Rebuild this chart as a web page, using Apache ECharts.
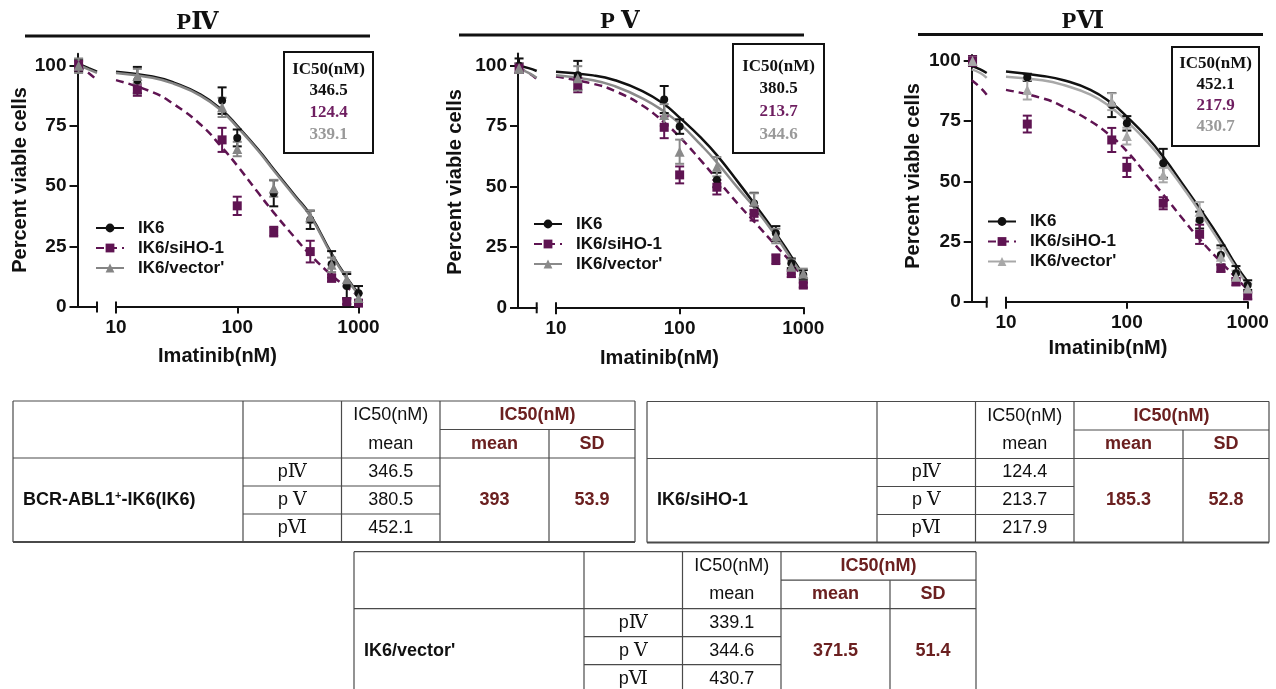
<!DOCTYPE html>
<html><head><meta charset="utf-8">
<script src="https://cdn.jsdelivr.net/npm/echarts@6/dist/echarts.min.js"></script>
<style>html,body{margin:0;padding:0;background:#fff}#c{width:1276px;height:689px}</style>
</head><body><div id="c"></div>
<script>
// ---------------- DATA ----------------
const panelTitles = ['PⅣ', 'P Ⅴ', 'PⅥ'];
const groupNames = ['IK6', 'IK6/siHO-1', "IK6/vector'"];
const yTicks = [0, 25, 50, 75, 100];
const xTicks = [10, 100, 1000];
const yAxisName = 'Percent viable cells';
const xAxisName = 'Imatinib(nM)';
// first dose = untreated control, drawn on the left (broken) segment
const doses = [5, 15, 75, 100, 200, 400, 600, 800, 1000];
const curveDosesLeft = [4.9, 6, 7];
const curveDosesRight = [10, 20, 30, 50, 75, 100, 150, 200, 300, 400, 600, 800, 1000];

// Panel PIV
const p4_IK6_mean = [100, 94, 85.5, 70, 47, 36, 17.5, 8.5, 5.5];
const p4_IK6_sd   = [2.5, 5.5, 5.5, 3.5, 5.4, 3.8, 5.5, 5, 3];
const p4_si_mean  = [100, 90, 69.2, 41.8, 31.1, 22.8, 11.8, 2, 1.4];
const p4_si_sd    = [2, 2.5, 5, 3.8, 2, 4.5, 1.5, 1, 1];
const p4_vec_mean = [100, 95.7, 82.7, 65.4, 49.1, 37.3, 17.3, 11.3, 3.5];
const p4_vec_sd   = [3, 3, 4, 3, 3.5, 2.5, 3, 3, 2];
const p4_IK6_fitL = [101, 99, 97.5];
const p4_IK6_fit  = [97.5, 95.5, 93, 88, 81.5, 75, 65, 57, 46, 38, 22, 12, 5.5];
const p4_si_fitL  = [100.3, 97, 94];
const p4_si_fit   = [94, 89, 84, 75.5, 66, 58.5, 47, 39, 28.5, 21.5, 13, 8, 4.5];
const p4_vec_fitL = [100.5, 98.5, 97];
const p4_vec_fit  = [97, 95, 92.5, 87.5, 81, 74.5, 64.5, 56.5, 45.5, 37.5, 21.5, 11.5, 5];

// Panel PV
const p5_IK6_mean = [100, 96, 86, 74.8, 52.7, 43, 30.6, 18.2, 13.4];
const p5_IK6_sd   = [3, 6, 5.6, 3, 3, 4.4, 3, 2, 2];
const p5_si_mean  = [99, 92, 74.5, 54.8, 49.7, 38.9, 19.9, 14, 9.2];
const p5_si_sd    = [2, 3, 4.5, 3.5, 3, 3, 2, 1.5, 1];
const p5_vec_mean = [99, 94.8, 79.6, 64.4, 58.2, 43.7, 29.5, 16.8, 14];
const p5_vec_sd   = [2, 5, 4.5, 5, 4, 3.5, 3, 3, 2];
const p5_IK6_fitL = [100, 99, 97.8];
const p5_IK6_fit  = [97.5, 96, 94, 89.5, 84, 78.5, 70, 63, 51.5, 43, 30.6, 21, 13.4];
const p5_si_fitL  = [99, 97, 94.5];
const p5_si_fit   = [95.5, 92.5, 89.5, 83.5, 76.5, 70.5, 60.5, 53, 42.5, 35.5, 25.5, 18.5, 12];
const p5_vec_fitL = [99, 97, 95];
const p5_vec_fit  = [96, 94, 91.5, 86.5, 81, 76, 67, 60, 49, 41.5, 29.5, 20, 13];

// Panel PVI
const p6_IK6_mean = [100, 93.2, 81.7, 74.1, 57.5, 33.9, 19.4, 11.8, 6.9];
const p6_IK6_sd   = [2, 1.5, 5, 3, 6, 3.5, 4, 3, 2];
const p6_si_mean  = [100, 73.8, 67.2, 55.8, 40.9, 28, 13.9, 8.3, 2.5];
const p6_si_sd    = [2, 3.5, 5, 4, 2.5, 4, 1.5, 1.5, 1.5];
const p6_vec_mean = [100, 88, 83.1, 68.8, 52.6, 37.4, 18.7, 10.4, 5.5];
const p6_vec_sd   = [1.5, 4, 3.5, 3.5, 3, 4, 3.5, 2.5, 2];
const p6_IK6_fitL = [98, 96.5, 95];
const p6_IK6_fit  = [95.6, 93.8, 92, 88, 82.4, 76.9, 67.9, 60.2, 47.8, 38.8, 25.6, 15.2, 8.3];
const p6_si_fitL  = [92, 89, 86];
const p6_si_fit   = [88, 84.5, 81, 75, 68.5, 62.5, 52, 44.5, 33.5, 26, 16.5, 10, 5];
const p6_vec_fitL = [96.5, 95, 93];
const p6_vec_fit  = [93.5, 92, 90, 86, 80.5, 75, 66, 58.5, 46.5, 37.5, 24, 14, 7];

// IC50 values (nM) per passage PIV, PV, PVI
const ic50_IK6 = [346.5, 380.5, 452.1];
const ic50_si  = [124.4, 213.7, 217.9];
const ic50_vec = [339.1, 344.6, 430.7];
const ic50Mean = [393, 185.3, 371.5];
const ic50SD   = [53.9, 52.8, 51.4];
const tableRowLabels = ['BCR-ABL1{sup|+}-IK6(IK6)', 'IK6/siHO-1', "IK6/vector'"];
const passageNumerals = ['Ⅳ', 'Ⅴ', 'Ⅵ'];
const passagePrefix = ['p', 'p ', 'p'];
const ic50Header = 'IC50(nM)';
const meanLabel = 'mean';
const sdLabel = 'SD';

// ---------------- LAYOUT / STYLE ----------------
const SANS = "'Liberation Sans', Arial, sans-serif";
const SERIF = "'Liberation Serif', 'DejaVu Serif', serif";
const INK = '#111';
const PURPLE = '#5f1452';
const TRED = '#6b2020';
const panels = [
  {yAxisX: 77.5, leftEnd: 97, rightStart: 116, rightEnd: 358.5, y100: 65.7, y0: 306.5, ymax: 105,
   grey: '#858585', title: [197.5, 23], tline: [25, 370, 36], yname: [20, 180], xname: [217.5, 356],
   box: [284, 52, 89, 101], boxY: [70, 91, 113, 135], legend: [95, 219.5]},
  {yAxisX: 518, leftEnd: 536.7, rightStart: 556, rightEnd: 803.3, y100: 65.7, y0: 307.3, ymax: 105,
   grey: '#8a8a8a', title: [620, 22], tline: [459, 804, 35], yname: [455.5, 182], xname: [659.5, 358],
   box: [733, 44, 91, 109], boxY: [66.7, 88.3, 111.7, 135], legend: [533, 215.5]},
  {yAxisX: 971.7, leftEnd: 986.7, rightStart: 1006, rightEnd: 1247.7, y100: 61, y0: 301.7, ymax: 102.5,
   grey: '#a8a8a8', title: [1083, 21.5], tline: [918, 1263, 34.5], yname: [913, 176], xname: [1108, 348.5],
   box: [1172, 47, 87, 99], boxY: [63.3, 85, 106, 126.7], legend: [987, 213]}
];
const panelData = [
  {mean: [p4_IK6_mean, p4_si_mean, p4_vec_mean], sd: [p4_IK6_sd, p4_si_sd, p4_vec_sd],
   fitL: [p4_IK6_fitL, p4_si_fitL, p4_vec_fitL], fit: [p4_IK6_fit, p4_si_fit, p4_vec_fit]},
  {mean: [p5_IK6_mean, p5_si_mean, p5_vec_mean], sd: [p5_IK6_sd, p5_si_sd, p5_vec_sd],
   fitL: [p5_IK6_fitL, p5_si_fitL, p5_vec_fitL], fit: [p5_IK6_fit, p5_si_fit, p5_vec_fit]},
  {mean: [p6_IK6_mean, p6_si_mean, p6_vec_mean], sd: [p6_IK6_sd, p6_si_sd, p6_vec_sd],
   fitL: [p6_IK6_fitL, p6_si_fitL, p6_vec_fitL], fit: [p6_IK6_fit, p6_si_fit, p6_vec_fit]}
];
const symbols = ['circle', 'rect', 'triangle'];
const symSizes = [8, 9, 10];
const lineTypes = ['solid', [8, 5], 'solid'];

function errRender(color) {
  return function (params, api) {
    const x = api.value(0), y = api.value(1), e = api.value(2);
    const a = api.coord([x, y + e]), b = api.coord([x, y - e]);
    const st = {stroke: color, lineWidth: 2};
    return {type: 'group', children: [
      {type: 'line', shape: {x1: a[0], y1: a[1], x2: b[0], y2: b[1]}, style: st},
      {type: 'line', shape: {x1: a[0] - 4.5, y1: a[1], x2: a[0] + 4.5, y2: a[1]}, style: st},
      {type: 'line', shape: {x1: b[0] - 4.5, y1: b[1], x2: b[0] + 4.5, y2: b[1]}, style: st}
    ]};
  };
}

const grid = [], xAxis = [], yAxis = [], series = [], legend = [], graphic = [];
const axisLineStyle = {show: true, lineStyle: {color: INK, width: 2}};

panels.forEach((P, i) => {
  const pxPer = (P.y0 - P.y100) / 100;
  const top = P.y0 - P.ymax * pxPer;
  const height = P.y0 - top;
  const colors = [INK, PURPLE, P.grey];
  grid.push({left: P.yAxisX, top: top, width: P.leftEnd - P.yAxisX, height: height, containLabel: false, outerBoundsMode: 'none', show: false});
  grid.push({left: P.rightStart, top: top, width: P.rightEnd - P.rightStart, height: height, containLabel: false, outerBoundsMode: 'none', show: false});
  const gL = 2 * i, gR = 2 * i + 1;
  xAxis.push({gridIndex: gL, type: 'log', logBase: 10, min: 4.9, max: 7, axisLine: axisLineStyle,
    axisTick: {show: false}, axisLabel: {show: false}, splitLine: {show: false}});
  xAxis.push({gridIndex: gR, type: 'log', logBase: 10, min: 10, max: 1000, axisLine: axisLineStyle,
    axisTick: {show: true, length: 7, lineStyle: {color: INK, width: 2}, customValues: xTicks},
    axisLabel: {show: true, customValues: xTicks, fontSize: 19, fontWeight: 'bold', color: INK, fontFamily: SANS, margin: 12,
      formatter: v => String(Math.round(v))},
    splitLine: {show: false}, minorTick: {show: false}});
  yAxis.push({gridIndex: gL, type: 'value', min: 0, max: P.ymax, interval: 25, axisLine: axisLineStyle,
    axisTick: {show: true, length: 8, lineStyle: {color: INK, width: 2}, customValues: yTicks},
    axisLabel: {show: true, customValues: yTicks, fontSize: 19, fontWeight: 'bold', color: INK, fontFamily: SANS, margin: 11},
    splitLine: {show: false}});
  yAxis.push({gridIndex: gR, type: 'value', min: 0, max: P.ymax, show: false, splitLine: {show: false}});

  const D = panelData[i];
  const names = groupNames.map(n => n + '#' + i);
  // fitted curves (right segment) first so legend picks them
  for (let g = 0; g < 3; g++) {
    series.push({type: 'line', name: names[g], xAxisIndex: gR, yAxisIndex: gR,
      data: curveDosesRight.map((d, k) => [d, D.fit[g][k]]),
      smooth: 0.5, symbol: symbols[g], symbolSize: symSizes[g], showSymbol: false,
      itemStyle: {color: colors[g]}, lineStyle: {color: colors[g], width: 2.5, type: lineTypes[g]},
      silent: true, animation: false, z: 2});
  }
  for (let g = 0; g < 3; g++) {
    series.push({type: 'line', name: names[g], xAxisIndex: gL, yAxisIndex: gL,
      data: curveDosesLeft.map((d, k) => [d, D.fitL[g][k]]),
      smooth: 0.5, symbol: symbols[g], showSymbol: false,
      itemStyle: {color: colors[g]}, lineStyle: {color: colors[g], width: 2.5, type: lineTypes[g]},
      silent: true, animation: false, z: 2});
  }
  for (let g = 0; g < 3; g++) {
    const pts = doses.map((d, k) => [d, D.mean[g][k], D.sd[g][k]]);
    [[gL, pts.slice(0, 1)], [gR, pts.slice(1)]].forEach(([gi, dat]) => {
      series.push({type: 'custom', name: names[g], xAxisIndex: gi, yAxisIndex: gi, data: dat,
        encode: {x: 0, y: 1}, renderItem: errRender(colors[g]), clip: false, silent: true, animation: false, z: 3});
      series.push({type: 'scatter', name: names[g], xAxisIndex: gi, yAxisIndex: gi,
        data: dat.map(p => [p[0], p[1]]), symbol: symbols[g], symbolSize: symSizes[g],
        itemStyle: {color: colors[g], opacity: 1}, clip: false, silent: true, animation: false, z: 4});
    });
  }
  legend.push({data: names, orient: 'vertical', left: P.legend[0], top: P.legend[1], itemWidth: 28, itemHeight: 11,
    itemGap: 3, selectedMode: false, formatter: n => n.split('#')[0], padding: 0,
    textStyle: {fontSize: 17, fontWeight: 'bold', color: INK, fontFamily: SANS, padding: [0, 0, 0, 9]}});

  // decorations
  graphic.push({type: 'text', x: P.title[0], y: P.title[1], silent: true,
    style: {text: panelTitles[i], fontSize: 24, fontWeight: 'bold', fontFamily: SERIF, fill: INK, align: 'center', verticalAlign: 'middle'}});
  graphic.push({type: 'line', silent: true, shape: {x1: P.tline[0], y1: P.tline[2], x2: P.tline[1], y2: P.tline[2]}, style: {stroke: INK, lineWidth: 3}});
  graphic.push({type: 'text', x: P.yname[0], y: P.yname[1], rotation: Math.PI / 2, silent: true,
    style: {text: yAxisName, fontSize: 20, fontWeight: 'bold', fontFamily: SANS, fill: INK, align: 'center', verticalAlign: 'middle'}});
  graphic.push({type: 'text', x: P.xname[0], y: P.xname[1], silent: true,
    style: {text: xAxisName, fontSize: 20, fontWeight: 'bold', fontFamily: SANS, fill: INK, align: 'center', verticalAlign: 'middle'}});
  // axis break marks
  [P.leftEnd, P.rightStart].forEach(bx => graphic.push({type: 'line', silent: true,
    shape: {x1: bx, y1: P.y0 - 5, x2: bx, y2: P.y0 + 6}, style: {stroke: INK, lineWidth: 2}}));
  // IC50 box
  const b = P.box;
  graphic.push({type: 'rect', silent: true, shape: {x: b[0], y: b[1], width: b[2], height: b[3]},
    style: {fill: 'transparent', stroke: INK, lineWidth: 2}});
  const bx = b[0] + b[2] / 2;
  const boxTexts = [[ic50Header, INK], [String(ic50_IK6[i]), INK], [String(ic50_si[i]), '#6e1e60'], [String(ic50_vec[i]), i === 2 ? '#9a9a9a' : '#999']];
  boxTexts.forEach((t, k) => graphic.push({type: 'text', x: bx, y: P.boxY[k], silent: true,
    style: {text: t[0], fontSize: 17, fontWeight: 'bold', fontFamily: SERIF, fill: t[1], align: 'center', verticalAlign: 'middle'}}));
});

// ---------------- TABLES ----------------
const tableOrigins = [[13, 401], [647, 401.5], [354, 551.7]];
const colOff = [0, 230, 328.5, 427, 536, 622];
const rowOff = [0, 28.5, 57, 85, 113, 141];
const groupIC50 = [ic50_IK6, ic50_si, ic50_vec];
tableOrigins.forEach((o, t) => {
  const X = colOff.map(c => o[0] + c), Y = rowOff.map(r => o[1] + r);
  const L = (x1, y1, x2, y2, w) => graphic.push({type: 'line', silent: true, shape: {x1, y1, x2, y2}, style: {stroke: '#4a4a4a', lineWidth: w || 1.2}});
  L(X[0], Y[0], X[5], Y[0]);
  L(X[3], Y[1], X[5], Y[1]);
  L(X[0], Y[2], X[5], Y[2]);
  L(X[1], Y[3], X[3], Y[3]);
  L(X[1], Y[4], X[3], Y[4]);
  L(X[0], Y[5], X[5], Y[5], 2);
  [0, 1, 2, 3, 5].forEach(c => L(X[c], Y[0], X[c], Y[5]));
  L(X[4], Y[1], X[4], Y[5]);
  const T = (x, y, text, opt) => graphic.push({type: 'text', x, y, silent: true,
    style: Object.assign({text, fontSize: 18, fontFamily: SANS, fill: INK, align: 'center', verticalAlign: 'middle'}, opt || {})});
  const cx2 = (X[2] + X[3]) / 2;
  T(cx2, (Y[0] + Y[1]) / 2, ic50Header);
  T(cx2, (Y[1] + Y[2]) / 2, meanLabel);
  T((X[3] + X[5]) / 2, (Y[0] + Y[1]) / 2, ic50Header, {fontWeight: 'bold', fill: TRED});
  T((X[3] + X[4]) / 2, (Y[1] + Y[2]) / 2, meanLabel, {fontWeight: 'bold', fill: TRED});
  T((X[4] + X[5]) / 2, (Y[1] + Y[2]) / 2, sdLabel, {fontWeight: 'bold', fill: TRED});
  for (let r = 0; r < 3; r++) {
    const yc = (Y[2 + r] + Y[3 + r]) / 2;
    T((X[1] + X[2]) / 2, yc, passagePrefix[r] + '{n|' + passageNumerals[r] + '}',
      {rich: {n: {fontFamily: SERIF, fontSize: 19, fill: INK}}});
    T(cx2, yc, String(groupIC50[t][r]));
  }
  const ym = (Y[2] + Y[5]) / 2;
  T((X[3] + X[4]) / 2, ym, String(ic50Mean[t]), {fontWeight: 'bold', fill: TRED});
  T((X[4] + X[5]) / 2, ym, String(ic50SD[t]), {fontWeight: 'bold', fill: TRED});
  T(X[0] + 10, ym, tableRowLabels[t], {fontWeight: 'bold', align: 'left',
    rich: {sup: {fontSize: 11, fontWeight: 'bold', fontFamily: SANS, fill: INK, verticalAlign: 'top', padding: [0, 0, 8, 0]}}});
});

const chart = echarts.init(document.getElementById('c'), null, {renderer: 'canvas'});
chart.setOption({
  backgroundColor: '#fff',
  animation: false,
  grid, xAxis, yAxis, series, legend, graphic
});
</script>
</body></html>
